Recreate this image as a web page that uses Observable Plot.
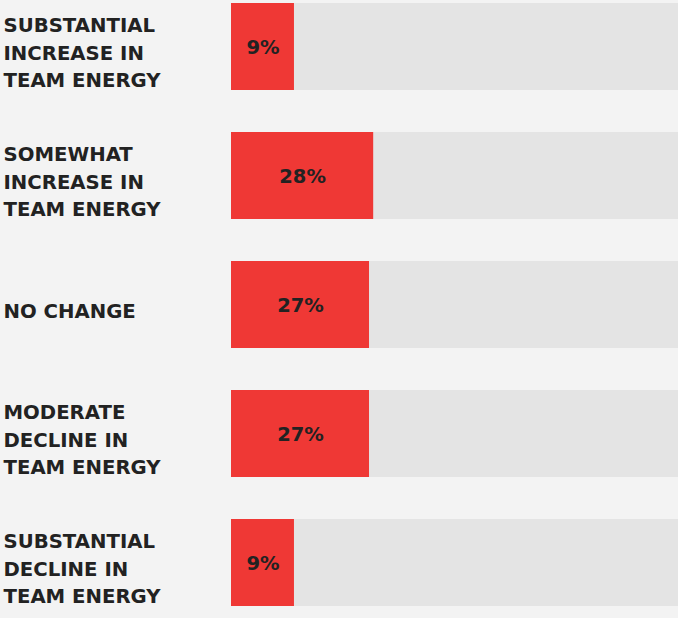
<!DOCTYPE html>
<html>
<head>
<meta charset="utf-8">
<script src="https://cdn.jsdelivr.net/npm/d3@7"></script>
<script src="https://cdn.jsdelivr.net/npm/@observablehq/plot@0.6"></script>
<style>
  html, body { margin: 0; padding: 0; background: #f3f3f3; }
  #chart svg { display: block; }
</style>
</head>
<body>
<div id="chart"></div>
<script>
const categories = [
  "SUBSTANTIAL\nINCREASE IN\nTEAM ENERGY",
  "SOMEWHAT\nINCREASE IN\nTEAM ENERGY",
  "NO CHANGE",
  "MODERATE\nDECLINE IN\nTEAM ENERGY",
  "SUBSTANTIAL\nDECLINE IN\nTEAM ENERGY"
];
const values = [9, 28, 27, 27, 9];
const xDomain = [-6.1, 101.1]; // bars begin with a short stub before 0%; track fills the row

const data = categories.map((c, i) => ({cat: c, value: values[i]}));

const chart = Plot.plot({
  width: 678,
  height: 618,
  marginLeft: 231,
  marginRight: 0,
  marginTop: 0,
  marginBottom: 0,
  style: {background: "#f3f3f3", fontFamily: "DejaVu Sans, sans-serif"},
  x: {domain: xDomain, axis: null},
  y: {domain: categories, range: [3, 606], paddingInner: 0.326, paddingOuter: 0, axis: null},
  marks: [
    Plot.barX(data, {y: "cat", x1: xDomain[0], x2: xDomain[1], fill: "#e4e4e4"}),
    Plot.barX(data, {y: "cat", x1: xDomain[0], x2: "value", fill: "#ef3835"}),
    Plot.text(data, {
      y: "cat",
      x: d => (xDomain[0] + d.value) / 2,
      text: d => d.value + "%",
      fontSize: 19.5,
      fontWeight: "bold",
      fill: "#222",
      dy: 1
    }),
    Plot.text(data, {
      y: "cat",
      text: "cat",
      frameAnchor: "left",
      textAnchor: "start",
      dx: -228,
      dy: 4,
      lineHeight: 1.4,
      fontSize: 19.7,
      fontWeight: "bold",
      fill: "#222"
    })
  ]
});
document.getElementById("chart").appendChild(chart);
</script>
</body>
</html>
